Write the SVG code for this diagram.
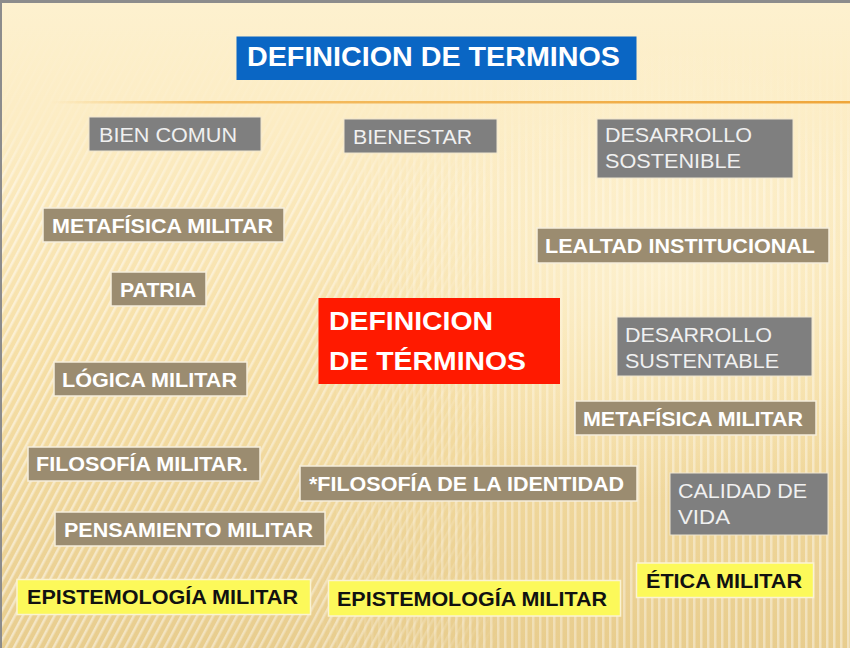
<svg xmlns="http://www.w3.org/2000/svg" width="850" height="648" viewBox="0 0 850 648">
<defs>
<linearGradient id="bg" x1="0" y1="0" x2="0" y2="1">
<stop offset="0" stop-color="#fdf1cf"/>
<stop offset="0.2" stop-color="#fcecc3"/>
<stop offset="0.55" stop-color="#f6dfa6"/>
<stop offset="1" stop-color="#e8cd8e"/>
</linearGradient>
<radialGradient id="glow" cx="0.78" cy="0.42" r="0.35">
<stop offset="0" stop-color="#fff6dc" stop-opacity="0.7"/>
<stop offset="1" stop-color="#fff6dc" stop-opacity="0"/>
</radialGradient>
<linearGradient id="orange" x1="0" y1="0" x2="1" y2="0">
<stop offset="0" stop-color="#f4b94e" stop-opacity="0"/>
<stop offset="0.2" stop-color="#f2b14a" stop-opacity="0.8"/>
<stop offset="1" stop-color="#efa63a"/>
</linearGradient>
<pattern id="diag" width="7" height="7" patternUnits="userSpaceOnUse" patternTransform="rotate(28)">
<rect width="2.5" height="7" fill="#ffffff" opacity="0.5"/>
</pattern>
<pattern id="vert" width="7" height="7" patternUnits="userSpaceOnUse">
<rect width="2.5" height="7" fill="#ffffff" opacity="0.42"/>
</pattern>
<linearGradient id="leftFade" x1="0" y1="0" x2="1" y2="0">
<stop offset="0" stop-color="#fff" stop-opacity="1"/>
<stop offset="0.4" stop-color="#fff" stop-opacity="0.8"/>
<stop offset="0.6" stop-color="#fff" stop-opacity="0"/>
</linearGradient>
<linearGradient id="rightFade" x1="0" y1="0" x2="1" y2="0">
<stop offset="0.35" stop-color="#fff" stop-opacity="0"/>
<stop offset="0.55" stop-color="#fff" stop-opacity="0.8"/>
<stop offset="1" stop-color="#fff" stop-opacity="1"/>
</linearGradient>
<linearGradient id="topFade" x1="0" y1="0" x2="0" y2="1">
<stop offset="0" stop-color="#fff" stop-opacity="0"/>
<stop offset="0.18" stop-color="#fff" stop-opacity="0.2"/>
<stop offset="0.3" stop-color="#fff" stop-opacity="1"/>
</linearGradient>
<mask id="mLeft"><rect width="850" height="648" fill="url(#leftFade)"/></mask>
<mask id="mRight"><rect width="850" height="648" fill="url(#rightFade)"/></mask>
<mask id="mTop"><rect width="850" height="648" fill="url(#topFade)"/></mask>
</defs>
<style>
.tan{fill:#9b8c70;stroke:#f6eedb;stroke-width:1.5}
.gry{fill:#7f7f7f;stroke:#efe6cf;stroke-width:1}
.yel{fill:#fcf95a;stroke:#fbf3d2;stroke-width:1.5}
.tb{font-family:"Liberation Sans",Arial,sans-serif;font-weight:bold;font-size:20px;fill:#ffffff}
.tg{font-family:"Liberation Sans",Arial,sans-serif;font-size:20px;fill:#f0f0f0}
.ty{font-family:"Liberation Sans",Arial,sans-serif;font-weight:bold;font-size:20px;fill:#111111}
.big{font-family:"Liberation Sans",Arial,sans-serif;font-weight:bold;fill:#ffffff}
</style>
<g id="background">
<rect width="850" height="648" fill="url(#bg)"/>
<g mask="url(#mTop)">
<rect width="850" height="648" fill="url(#diag)" mask="url(#mLeft)"/>
<rect width="850" height="648" fill="url(#vert)" mask="url(#mRight)"/>
</g>
<rect width="850" height="648" fill="url(#glow)"/>
<rect x="50" y="101" width="800" height="2.5" fill="url(#orange)"/>
<rect x="0" y="0" width="850" height="3" fill="#8c8c8c"/>
<rect x="0" y="0" width="2" height="648" fill="#8c8c8c"/>
</g>
<g id="connectors"></g>
<g id="title">
<rect x="236.5" y="36.5" width="400" height="43.5" fill="#0a66c4"/>
<text class="big" x="247" y="66" font-size="27" textLength="373" lengthAdjust="spacingAndGlyphs">DEFINICION DE TERMINOS</text>
</g>
<g id="bien-comun">
<rect class="gry" x="89" y="117" width="172" height="34"/>
<text class="tg" x="99" y="142" textLength="138" lengthAdjust="spacingAndGlyphs">BIEN COMUN</text>
</g>
<g id="bienestar">
<rect class="gry" x="344" y="119" width="153" height="34"/>
<text class="tg" x="353" y="144" textLength="119" lengthAdjust="spacingAndGlyphs">BIENESTAR</text>
</g>
<g id="desarrollo-sostenible">
<rect class="gry" x="597" y="119" width="196" height="59"/>
<text class="tg" x="605" y="142" textLength="147" lengthAdjust="spacingAndGlyphs">DESARROLLO</text>
<text class="tg" x="605" y="168" textLength="136" lengthAdjust="spacingAndGlyphs">SOSTENIBLE</text>
</g>
<g id="metafisica-1">
<rect class="tan" x="43" y="208" width="241" height="34"/>
<text class="tb" x="52" y="233" textLength="221" lengthAdjust="spacingAndGlyphs">METAFÍSICA MILITAR</text>
</g>
<g id="lealtad">
<rect class="tan" x="537" y="228" width="292" height="35"/>
<text class="tb" x="545" y="253" textLength="270" lengthAdjust="spacingAndGlyphs">LEALTAD INSTITUCIONAL</text>
</g>
<g id="patria">
<rect class="tan" x="111" y="272" width="95" height="34"/>
<text class="tb" x="120" y="297" textLength="76" lengthAdjust="spacingAndGlyphs">PATRIA</text>
</g>
<g id="centro">
<rect x="318.5" y="298" width="241.5" height="86" fill="#ff1a00"/>
<text class="big" x="329" y="330" font-size="26" textLength="164" lengthAdjust="spacingAndGlyphs">DEFINICION</text>
<text class="big" x="329" y="370" font-size="26" textLength="197" lengthAdjust="spacingAndGlyphs">DE TÉRMINOS</text>
</g>
<g id="desarrollo-sustentable">
<rect class="gry" x="617" y="317" width="195" height="59"/>
<text class="tg" x="625" y="342" textLength="147" lengthAdjust="spacingAndGlyphs">DESARROLLO</text>
<text class="tg" x="625" y="368" textLength="154" lengthAdjust="spacingAndGlyphs">SUSTENTABLE</text>
</g>
<g id="logica">
<rect class="tan" x="54" y="362" width="193" height="34"/>
<text class="tb" x="62" y="387" textLength="175" lengthAdjust="spacingAndGlyphs">LÓGICA MILITAR</text>
</g>
<g id="metafisica-2">
<rect class="tan" x="575" y="401" width="241" height="34"/>
<text class="tb" x="583" y="426" textLength="220" lengthAdjust="spacingAndGlyphs">METAFÍSICA MILITAR</text>
</g>
<g id="filosofia-militar">
<rect class="tan" x="28" y="447" width="232" height="34"/>
<text class="tb" x="36" y="471" textLength="212" lengthAdjust="spacingAndGlyphs">FILOSOFÍA MILITAR.</text>
</g>
<g id="filosofia-identidad">
<rect class="tan" x="300" y="466" width="337" height="35"/>
<text class="tb" x="309" y="491" textLength="315" lengthAdjust="spacingAndGlyphs">*FILOSOFÍA DE LA IDENTIDAD</text>
</g>
<g id="calidad">
<rect class="gry" x="670" y="473" width="158" height="62"/>
<text class="tg" x="678" y="498" textLength="129" lengthAdjust="spacingAndGlyphs">CALIDAD DE</text>
<text class="tg" x="678" y="524" textLength="52" lengthAdjust="spacingAndGlyphs">VIDA</text>
</g>
<g id="pensamiento">
<rect class="tan" x="55" y="512" width="270" height="34"/>
<text class="tb" x="64" y="537" textLength="249" lengthAdjust="spacingAndGlyphs">PENSAMIENTO MILITAR</text>
</g>
<g id="etica">
<rect class="yel" x="636.5" y="563" width="177" height="34.5"/>
<text class="ty" x="646" y="588" textLength="156" lengthAdjust="spacingAndGlyphs">ÉTICA MILITAR</text>
</g>
<g id="epistemologia-1">
<rect class="yel" x="17" y="579.5" width="293.5" height="35"/>
<text class="ty" x="27" y="604" textLength="271" lengthAdjust="spacingAndGlyphs">EPISTEMOLOGÍA MILITAR</text>
</g>
<g id="epistemologia-2">
<rect class="yel" x="328.5" y="580.5" width="292" height="35.5"/>
<text class="ty" x="337" y="606" textLength="270" lengthAdjust="spacingAndGlyphs">EPISTEMOLOGÍA MILITAR</text>
</g>
</svg>
